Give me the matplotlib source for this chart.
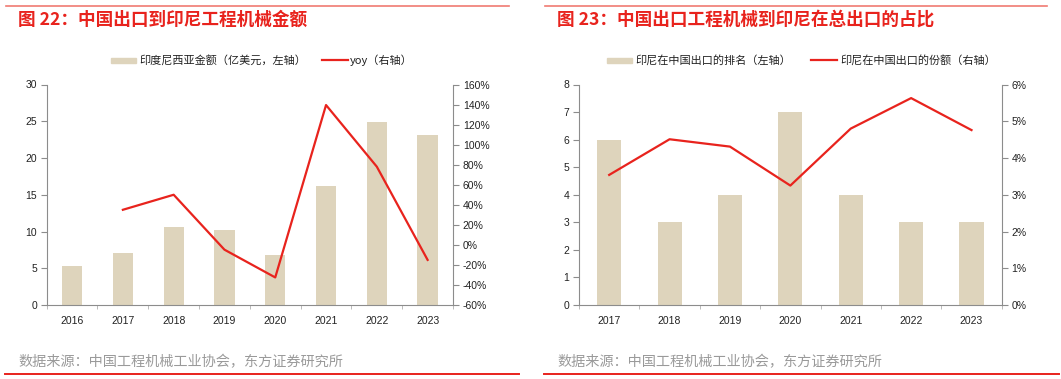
import matplotlib
matplotlib.use("Agg")
import matplotlib.pyplot as plt
from matplotlib.ticker import FuncFormatter, FixedLocator
from matplotlib.lines import Line2D
from matplotlib.patches import Rectangle

plt.rcParams['font.family'] = ['Liberation Sans', 'Noto Sans CJK SC', 'DejaVu Sans']
CJK = ['Noto Sans CJK SC', 'DejaVu Sans']

# === DADOS ===
anos_esq = ['2016', '2017', '2018', '2019', '2020', '2021', '2022', '2023']
valor_indonesia = [5.25, 7.1, 10.65, 10.15, 6.85, 16.25, 24.9, 23.1]   # 亿美元
yoy = [None, 35.0, 50.0, -4.8, -32.5, 139.5, 78.0, -15.0]             # %

anos_dir = ['2017', '2018', '2019', '2020', '2021', '2022', '2023']
ranking = [6, 3, 4, 7, 4, 3, 3]
participacao = [3.54, 4.51, 4.31, 3.25, 4.80, 5.63, 4.76]              # %

# === ESTILO ===
cor_barra = '#DED4BC'
cor_linha = '#E8231D'
cor_eixo = '#8C8C8C'
cor_titulo = '#E8231D'
W, H = 1061, 379

fig = plt.figure(figsize=(W / 100, H / 100), dpi=100)


def px(x, y):
    return x / W, 1 - y / H


def estilo_eixos(ax, ax2, n):
    for a in (ax, ax2):
        a.spines['top'].set_visible(False)
        for s in ('left', 'right', 'bottom'):
            a.spines[s].set_color(cor_eixo)
            a.spines[s].set_linewidth(0.8)
    ax.spines['right'].set_visible(False)
    ax2.spines['left'].set_visible(False)
    ax2.spines['bottom'].set_visible(False)
    ax.set_xlim(-0.5, n - 0.5)
    ax.set_xticks(range(n))
    ax.tick_params(axis='x', length=0, pad=8, labelsize=7.5, colors='#222222')
    ax.xaxis.set_minor_locator(FixedLocator([i + 0.5 for i in range(-1, n)]))
    ax.tick_params(axis='x', which='minor', length=3, color='#B0B0B0', direction='out')
    ax.tick_params(axis='y', length=4, color=cor_eixo, labelsize=7.5, labelcolor='#222222', pad=3)
    ax2.tick_params(axis='y', length=4, color=cor_eixo, labelsize=7.5, labelcolor='#222222', pad=3)


# --- Gráfico esquerdo ---
ax1 = fig.add_axes([46.7 / W, 74 / H, 406.3 / W, 220.5 / H])
ax1b = ax1.twinx()
x1 = list(range(len(anos_esq)))
ax1.bar(x1, valor_indonesia, width=0.4, color=cor_barra, zorder=2)
ax1.set_ylim(0, 30)
ax1.set_yticks(range(0, 31, 5))
ax1.set_xticklabels(anos_esq)
xs = [x for x, v in zip(x1, yoy) if v is not None]
ys = [v for v in yoy if v is not None]
ax1b.plot(xs, ys, color=cor_linha, lw=1.6, zorder=3)
ax1b.set_ylim(-60, 160)
ax1b.set_yticks(range(-60, 161, 20))
ax1b.yaxis.set_major_formatter(FuncFormatter(lambda v, p: f"{v:.0f}%"))
estilo_eixos(ax1, ax1b, len(anos_esq))

# --- Gráfico direito ---
ax2 = fig.add_axes([579 / W, 74 / H, 422.7 / W, 220.5 / H])
ax2b = ax2.twinx()
x2 = list(range(len(anos_dir)))
ax2.bar(x2, ranking, width=0.4, color=cor_barra, zorder=2)
ax2.set_ylim(0, 8)
ax2.set_yticks(range(0, 9))
ax2.set_xticklabels(anos_dir)
ax2b.plot(x2, participacao, color=cor_linha, lw=1.6, zorder=3)
ax2b.set_ylim(0, 6)
ax2b.set_yticks(range(0, 7))
ax2b.yaxis.set_major_formatter(FuncFormatter(lambda v, p: f"{v:.0f}%"))
estilo_eixos(ax2, ax2b, len(anos_dir))

# --- Títulos, linhas e legendas ---
def painel(x0, x1_, titulo, leg1, leg2, lx, fonte):
    fig.add_artist(Line2D([x0 / W, x1_ / W], [1 - 6 / H, 1 - 6 / H], color='#F07A72', lw=1.2))
    fig.text(*px(x0 + 12, 20), titulo, family=CJK, fontsize=12.7, fontweight='bold',
             color=cor_titulo, va='center', ha='left')
    # legenda
    p1, t1, l2, t2 = lx
    fig.add_artist(Rectangle(px(p1, 62.5), 25 / W, 5 / H, color=cor_barra))
    fig.text(*px(t1, 60), leg1, family=CJK, fontsize=8, va='center', ha='left', color='#222222')
    fig.add_artist(Line2D([l2 / W, (l2 + 26) / W], [1 - 60 / H, 1 - 60 / H], color=cor_linha, lw=1.6))
    fig.text(*px(t2, 60), leg2, family=CJK, fontsize=8, va='center', ha='left', color='#222222')
    fx0, fx1 = fonte
    fig.text(*px(x0 + 12, 362), '数据来源：中国工程机械工业协会，东方证券研究所', family=CJK,
             fontsize=10.2, color='#9A9A9A', va='center', ha='left')
    fig.add_artist(Line2D([fx0 / W, fx1 / W], [1 - 373.5 / H, 1 - 373.5 / H], color=cor_linha, lw=1.4))


painel(6, 509, '图 22：中国出口到印尼工程机械金额', '印度尼西亚金额（亿美元，左轴）', 'yoy（右轴）',
       (111, 139, 322, 350), (5, 519))
painel(545, 1047, '图 23：中国出口工程机械到印尼在总出口的占比', '印尼在中国出口的排名（左轴）',
       '印尼在中国出口的份额（右轴）', (607, 635, 811, 840), (544, 1059))

fig.savefig('out.png', dpi=100)
